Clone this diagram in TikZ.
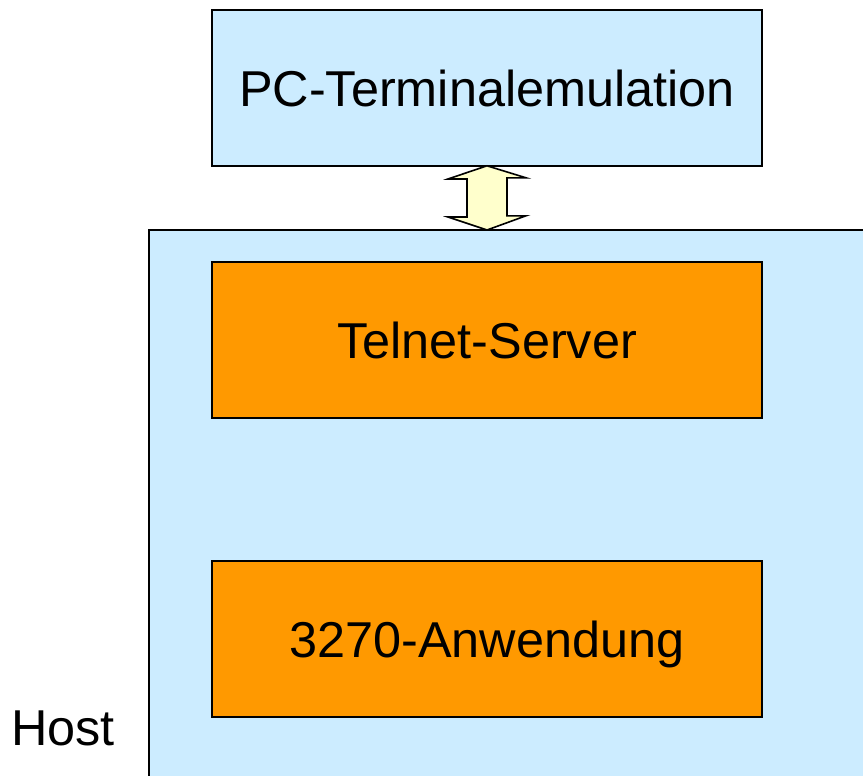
\documentclass[tikz,border=0pt]{standalone}
\usepackage{fontspec}
\setmainfont{Liberation Sans}
\begin{document}
\begin{tikzpicture}[x=1pt,y=-1pt,
  txt/.style={font=\fontsize{50.4}{60}\selectfont},
  box/.style={draw=black, line width=1.6pt, inner sep=0pt, minimum width=550pt, minimum height=156pt,
    text height=37pt, text depth=0pt, txt},
  bluebox/.style={box, fill=skyfill},
  orangebox/.style={box, fill=orangefill}]
\definecolor{skyfill}{HTML}{CCECFF}
\definecolor{orangefill}{HTML}{FF9900}
\definecolor{arrowfill}{HTML}{FFFFCC}
\useasboundingbox (0,0) rectangle (863,776);

% host area, open to the right and bottom
\node[fill=skyfill, inner sep=0pt, minimum width=716pt, minimum height=548pt, anchor=north west] (host) at (149,230) {};
\draw[line width=1.6pt] (host.south west) -- (host.north west) -- (host.north east);

% boxes
\node[bluebox] (pc) at (487,88) {PC-Terminalemulation};
\node[orangebox] (telnet) at (487,340) {Telnet-Server};
\node[orangebox] (app) at (487,639) {3270-Anwendung};

\node[txt, anchor=base] (hostlabel) at (63,745) {Host};

% double arrow between emulation and host
\coordinate (atop) at ([yshift=1pt]pc.south);
\coordinate (abot) at (host.north -| pc.south);
\draw[line width=1.6pt, fill=arrowfill, line join=miter]
  (atop) -- ++(39,12) -- ++(-19,0) -- ++(0,38) -- ++(19,0)
  -- (abot) -- ++(-39,-13) -- ++(19,0) -- ++(0,-38) -- ++(-19,0) -- cycle;
\end{tikzpicture}
\end{document}
